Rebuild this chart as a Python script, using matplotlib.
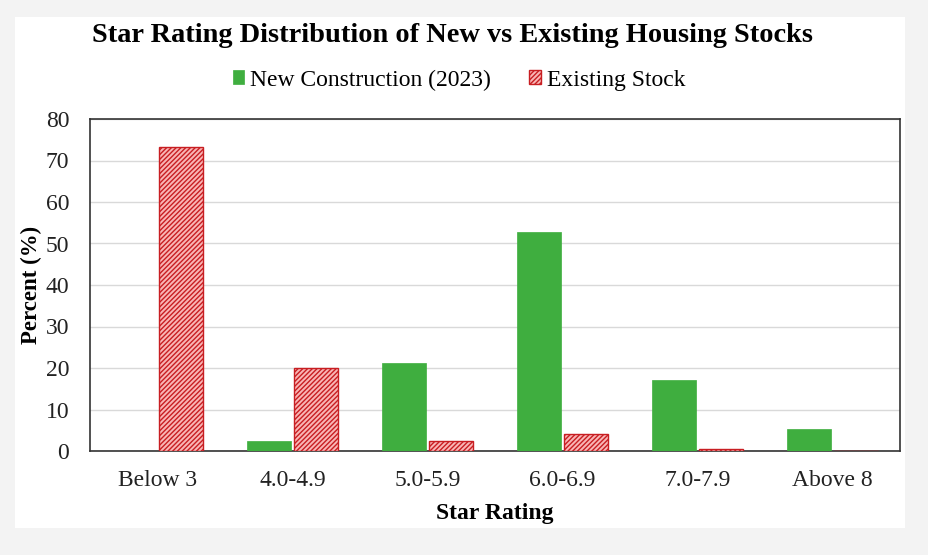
import matplotlib
matplotlib.use("Agg")
import matplotlib.pyplot as plt
import numpy as np
from matplotlib.patches import Rectangle

categories = ["Below 3", "4.0-4.9", "5.0-5.9", "6.0-6.9", "7.0-7.9", "Above 8"]
new_construction = [0.0, 2.4, 21.3, 52.8, 17.2, 5.2]
existing_stock = [73.3, 19.9, 2.5, 4.1, 0.5, 0.0]
series_names = ["New Construction (2023)", "Existing Stock"]
yticks = [0, 10, 20, 30, 40, 50, 60, 70, 80]

plt.rcParams['font.family'] = ['Liberation Serif', 'DejaVu Serif']
plt.rcParams['hatch.linewidth'] = 1.0

fig = plt.figure(figsize=(9.29, 5.55), dpi=100)
fig.patch.set_facecolor("#f3f3f3")
fig.patches.append(Rectangle((15/929, 1-528/555), 890/929, 511/555,
                             transform=fig.transFigure, facecolor="white",
                             edgecolor="none", zorder=-5))

ax = fig.add_axes([90/929, 1-451/555, 810/929, 332/555])
x = np.arange(len(categories))
w = 0.325
gap = 0.012
ax.bar(x - w/2 - gap, new_construction, width=w, color="#3fae3f",
       edgecolor="#3fae3f", linewidth=0.5, label=series_names[0], zorder=3)
ax.bar(x + w/2 + gap, existing_stock, width=w, facecolor="#f9b5b5",
       edgecolor="#c81e22", hatch="///////", linewidth=1.0,
       label=series_names[1], zorder=3)

ax.set_xlim(-0.5, len(categories) - 0.5)
ax.set_ylim(0, 80)
ax.set_yticks(yticks)
ax.set_xticks(x)
ax.set_xticklabels(categories)
ax.tick_params(axis='y', length=0, labelsize=17, colors="#222222", pad=15)
ax.tick_params(axis='x', length=0, labelsize=17, colors="#222222", pad=14)
ax.grid(axis='y', color="#d9d9d9", linewidth=1.0, zorder=0)
ax.set_axisbelow(True)
for s in ax.spines.values():
    s.set_color("#333333")
    s.set_linewidth(1.2)

ax.set_xlabel("Star Rating", fontsize=17, fontweight='bold', labelpad=8)
ax.set_ylabel("Percent (%)", fontsize=16.5, fontweight='bold')
ax.yaxis.set_label_coords(-48/810, 0.5)

fig.text(0.487, 1-36/555, "Star Rating Distribution of New vs Existing Housing Stocks",
         ha='center', va='center', fontsize=20.4, fontweight='bold')

leg = fig.legend(loc='center', bbox_to_anchor=(0.494, 1-80/555), ncol=2,
                 frameon=False, fontsize=17, handlelength=0.5, handleheight=0.5,
                 handletextpad=0.25, columnspacing=1.6)

fig.savefig("out.png", dpi=100)
